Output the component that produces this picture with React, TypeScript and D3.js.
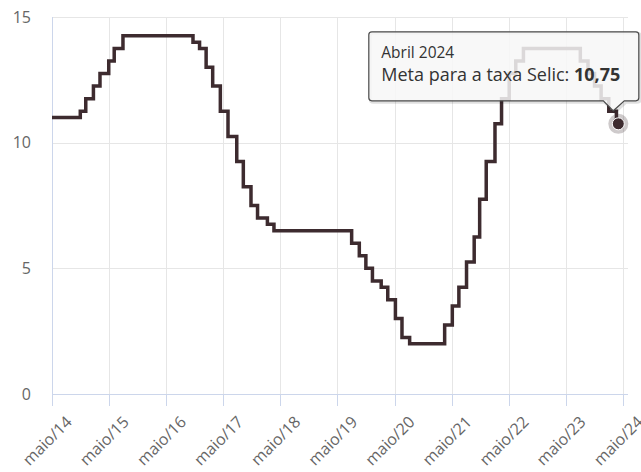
import React, { useEffect, useRef } from "react";
import * as d3 from "d3";

// Copom decisions (date the new target took effect) and the Selic target, % a.a.
const decisionDates = [
  "2014-05-01", "2014-10-29", "2014-12-03", "2015-01-21", "2015-03-04",
  "2015-04-29", "2015-06-03", "2015-07-29", "2016-10-19", "2016-11-30",
  "2017-01-11", "2017-02-22", "2017-04-12", "2017-05-31", "2017-07-26",
  "2017-09-06", "2017-10-25", "2017-12-06", "2018-02-07", "2018-03-21",
  "2019-07-31", "2019-09-18", "2019-10-30", "2019-12-11", "2020-02-05",
  "2020-03-18", "2020-05-06", "2020-06-17", "2020-08-05", "2021-03-17",
  "2021-05-05", "2021-06-16", "2021-08-04", "2021-09-22", "2021-10-27",
  "2021-12-08", "2022-02-02", "2022-03-16", "2022-05-04", "2022-06-15",
  "2022-08-03", "2023-08-02", "2023-09-20", "2023-11-01", "2023-12-13",
  "2024-01-31", "2024-03-20", "2024-04-01",
];
const selicTarget = [
  11.0, 11.25, 11.75, 12.25, 12.75,
  13.25, 13.75, 14.25, 14.0, 13.75,
  13.0, 12.25, 11.25, 10.25, 9.25,
  8.25, 7.5, 7.0, 6.75, 6.5,
  6.0, 5.5, 5.0, 4.5, 4.25,
  3.75, 3.0, 2.25, 2.0, 2.75,
  3.5, 4.25, 5.25, 6.25, 7.75,
  9.25, 10.75, 11.75, 12.75, 13.25,
  13.75, 13.25, 12.75, 12.25, 11.75,
  11.25, 10.75, 10.75,
];

const yTicks = [0, 5, 10, 15];
const tickYears = [2014, 2015, 2016, 2017, 2018, 2019, 2020, 2021, 2022, 2023, 2024];
const tooltipTitle = "Abril 2024";
const seriesName = "Meta para a taxa Selic";
const tooltipValue = "10,75";

const FONT = "'Open Sans', 'DejaVu Sans', sans-serif";

const SelicChart = () => {
  const svgRef = useRef<SVGSVGElement | null>(null);

  useEffect(() => {
    const width = 641;
    const height = 472;
    const left = 52;
    const right = 628;
    const top = 17;
    const bottom = 394;

    const svg = d3.select(svgRef.current);
    svg.selectAll("*").remove();
    svg.attr("width", width).attr("height", height);

    const data = decisionDates.map((d, i) => ({
      date: new Date(d + "T00:00:00"),
      value: selicTarget[i],
    }));

    // x: maio/14 .. maio/24 ticks, plot runs a little beyond the last tick
    const x = d3
      .scaleTime()
      .domain([new Date(2014, 4, 1), new Date(2024, 4, 1)])
      .range([left, 623]);

    const y = d3.scaleLinear().domain([0, 15]).range([bottom, top]);

    const tickDates = tickYears.map((yr) => new Date(yr, 4, 1));

    // vertical grid
    svg
      .append("g")
      .selectAll("line")
      .data(tickDates.slice(1))
      .join("line")
      .attr("x1", (d) => Math.round(x(d)) + 0.5)
      .attr("x2", (d) => Math.round(x(d)) + 0.5)
      .attr("y1", top)
      .attr("y2", bottom)
      .attr("stroke", "#e6e6e6");

    // horizontal grid
    svg
      .append("g")
      .selectAll("line")
      .data(yTicks.filter((t) => t > 0))
      .join("line")
      .attr("x1", left)
      .attr("x2", right)
      .attr("y1", (d) => Math.round(y(d)) + 0.5)
      .attr("y2", (d) => Math.round(y(d)) + 0.5)
      .attr("stroke", "#e6e6e6");

    // y axis line
    svg
      .append("line")
      .attr("x1", left + 0.5)
      .attr("x2", left + 0.5)
      .attr("y1", top)
      .attr("y2", bottom)
      .attr("stroke", "#ccd6eb");

    // x axis line + ticks
    svg
      .append("line")
      .attr("x1", left)
      .attr("x2", right)
      .attr("y1", bottom + 0.5)
      .attr("y2", bottom + 0.5)
      .attr("stroke", "#ccd6eb");

    svg
      .append("g")
      .selectAll("line")
      .data(tickDates)
      .join("line")
      .attr("x1", (d) => Math.round(x(d)) + 0.5)
      .attr("x2", (d) => Math.round(x(d)) + 0.5)
      .attr("y1", bottom)
      .attr("y2", bottom + 12)
      .attr("stroke", "#ccd6eb");

    // y labels
    svg
      .append("g")
      .selectAll("text")
      .data(yTicks)
      .join("text")
      .attr("x", 31)
      .attr("y", (d) => y(d))
      .attr("dy", "0.36em")
      .attr("text-anchor", "end")
      .style("font-family", FONT)
      .style("font-size", "16px")
      .style("fill", "#666")
      .text((d) => d);

    // x labels, rotated
    const fmt = d3.timeFormat("%y");
    svg
      .append("g")
      .selectAll("text")
      .data(tickDates)
      .join("text")
      .attr("transform", (d) => `translate(${x(d) + 21}, ${bottom + 29}) rotate(-45)`)
      .attr("text-anchor", "end")
      .style("font-family", FONT)
      .style("font-size", "16px")
      .style("fill", "#666")
      .text((d) => `maio/${fmt(d)}`);

    // step line
    const line = d3
      .line<{ date: Date; value: number }>()
      .x((d) => x(d.date))
      .y((d) => y(d.value))
      .curve(d3.curveStepAfter);

    svg
      .append("path")
      .datum(data)
      .attr("d", line)
      .attr("fill", "none")
      .attr("stroke", "#3d2b2f")
      .attr("stroke-width", 3.5)
      .attr("stroke-linejoin", "miter");

    // hovered point
    const last = data[data.length - 1];
    const px = x(last.date);
    const py = y(last.value);

    svg
      .append("circle")
      .attr("cx", px)
      .attr("cy", py)
      .attr("r", 10)
      .attr("fill", "#3d2b2f")
      .attr("opacity", 0.25);

    svg
      .append("circle")
      .attr("cx", px)
      .attr("cy", py)
      .attr("r", 6)
      .attr("fill", "#3d2b2f")
      .attr("stroke", "#fff")
      .attr("stroke-width", 1);

    // tooltip box with callout
    const bx = px - 249.5;
    const by = py - 92;
    const bw = 270;
    const bh = 69;
    const r = 3;
    const tipL = px - 15;
    const tipR = px + 6;
    const tipX = px - 5;
    const tipY = by + bh + 10;
    const tipPath = [
      `M ${bx + r} ${by}`,
      `L ${bx + bw - r} ${by}`,
      `Q ${bx + bw} ${by} ${bx + bw} ${by + r}`,
      `L ${bx + bw} ${by + bh - r}`,
      `Q ${bx + bw} ${by + bh} ${bx + bw - r} ${by + bh}`,
      `L ${tipR} ${by + bh}`,
      `L ${tipX} ${tipY}`,
      `L ${tipL} ${by + bh}`,
      `L ${bx + r} ${by + bh}`,
      `Q ${bx} ${by + bh} ${bx} ${by + bh - r}`,
      `L ${bx} ${by + r}`,
      `Q ${bx} ${by} ${bx + r} ${by}`,
      "Z",
    ].join(" ");

    const tip = svg.append("g");
    tip
      .append("path")
      .attr("d", tipPath)
      .attr("transform", "translate(1.5,1.5)")
      .attr("fill", "none")
      .attr("stroke", "rgba(0,0,0,0.12)")
      .attr("stroke-width", 3);
    tip
      .append("path")
      .attr("d", tipPath)
      .attr("fill", "rgba(247,247,247,0.85)")
      .attr("stroke", "#4a4a4a")
      .attr("stroke-width", 1.2);

    tip
      .append("text")
      .attr("x", bx + 12.5)
      .attr("y", by + 26)
      .style("font-family", FONT)
      .style("font-size", "15.5px")
      .style("fill", "#333")
      .text(tooltipTitle);

    const t2 = tip
      .append("text")
      .attr("x", bx + 12.5)
      .attr("y", by + 49)
      .style("font-family", FONT)
      .style("font-size", "18px")
      .style("fill", "#333");
    t2.append("tspan").text(`${seriesName}: `);
    t2.append("tspan").style("font-weight", "bold").text(tooltipValue);
  }, []);

  return <svg ref={svgRef}></svg>;
};

export default function App() {
  return (
    <div style={{ position: "absolute", left: 0, top: 0 }}>
      <SelicChart />
    </div>
  );
}
